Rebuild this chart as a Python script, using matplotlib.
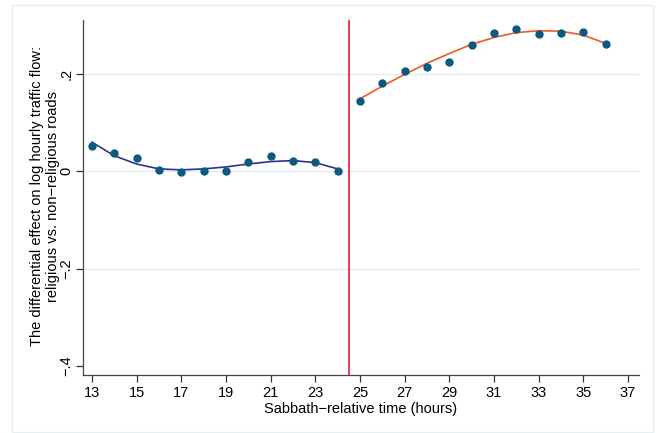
import matplotlib
matplotlib.use("Agg")
import matplotlib.pyplot as plt
from matplotlib.patches import Rectangle

plt.rcParams['font.family'] = ['Liberation Sans', 'DejaVu Sans']

# Data
hours_pre = [13, 14, 15, 16, 17, 18, 19, 20, 21, 22, 23, 24]
effect_pre = [0.053, 0.037, 0.027, 0.003, -0.002, 0.0, 0.0, 0.020, 0.031, 0.022, 0.020, 0.0]
fit_pre = [0.060, 0.032, 0.015, 0.005, 0.003, 0.005, 0.009, 0.015, 0.020, 0.022, 0.018, 0.005]

hours_post = [25, 26, 27, 28, 29, 30, 31, 32, 33, 34, 35, 36]
effect_post = [0.145, 0.181, 0.207, 0.215, 0.225, 0.260, 0.284, 0.292, 0.282, 0.285, 0.286, 0.262]
fit_post = [0.149, 0.175, 0.199, 0.222, 0.242, 0.261, 0.275, 0.285, 0.289, 0.288, 0.280, 0.263]

cutoff = 24.5
xticks = [13, 15, 17, 19, 21, 23, 25, 27, 29, 31, 33, 35, 37]
yticks = [-0.4, -0.2, 0.0, 0.2]
ytick_labels = ['\u2212.4', '\u2212.2', '0', '.2']

W, H = 658, 433
fig = plt.figure(figsize=(W / 100, H / 100), dpi=100)
fig.patch.set_facecolor('white')
fig.patches.append(Rectangle((12 / W, 1 - 432 / H), 641 / W, 427 / H,
                             transform=fig.transFigure, fill=False,
                             edgecolor='#e6f0f2', linewidth=1.0))

ax = fig.add_axes([83 / W, 1 - 375 / H, (639 - 83) / W, (375 - 20) / H])
ax.set_xlim(12.6, 37.5)
ax.set_ylim(-0.4186, 0.311)

for y in [-0.2, 0.0, 0.2]:
    ax.axhline(y, color='#dcebf0', linewidth=0.9, zorder=0)

ax.axvline(cutoff, color='#e8193c', linewidth=1.2, zorder=1)

ax.plot(hours_pre, fit_pre, color='#2e3192', linewidth=1.2, zorder=2)
ax.plot(hours_post, fit_post, color='#f05a28', linewidth=1.2, zorder=2)
ax.plot(hours_pre, effect_pre, 'o', color='#0d5a80', markersize=5, zorder=3)
ax.plot(hours_post, effect_post, 'o', color='#0d5a80', markersize=5, zorder=3)

ax.set_xticks(xticks)
ax.set_yticks(yticks)
ax.set_yticklabels(ytick_labels, rotation=90, va='center')
ax.tick_params(axis='both', direction='out', length=5, width=0.9, color='#333333',
               labelsize=10.5)
ax.tick_params(axis='x', pad=3)
ax.tick_params(axis='y', pad=2)

for s in ['top', 'right']:
    ax.spines[s].set_visible(False)
for s in ['left', 'bottom']:
    ax.spines[s].set_color('#444444')
    ax.spines[s].set_linewidth(0.9)

ax.set_xlabel('Sabbath\u2212relative time (hours)', fontsize=10.5, labelpad=1)
fig.text(45 / W, 1 - 196 / H,
         'The differential effect on log hourly traffic flow:\nreligious vs. non\u2212religious roads',
         rotation=90, ha='center', va='center', fontsize=10.5, linespacing=1.1,
         multialignment='center')

fig.savefig('out.png', dpi=100)
